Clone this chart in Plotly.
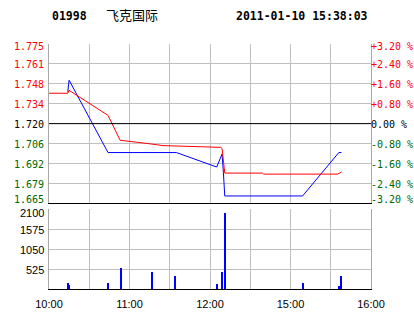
import plotly.graph_objects as go

# ---------------- data ----------------
code = "01998"
name = "飞克国际"
stamp = "2011-01-10 15:38:03"
prev_close = 1.720

price_times = ["10:14", "10:15", "10:44", "11:35", "12:05", "12:09", "12:10", "12:11", "15:09", "15:36", "15:38"]
price_vals = [1.742, 1.750, 1.700, 1.700, 1.690, 1.699, 1.686, 1.670, 1.670, 1.700, 1.700]

avg_times = ["10:00", "10:14", "10:15", "10:44", "10:53", "11:01", "11:14", "11:25", "11:50", "12:08",
             "12:09", "12:11", "14:39", "14:40", "15:35", "15:38"]
avg_vals = [1.741, 1.741, 1.743, 1.7257, 1.7085, 1.7078, 1.7062, 1.7048, 1.7039, 1.7036,
            1.7027, 1.6858, 1.6858, 1.6851, 1.6851, 1.6865]

vol_times = ["10:14", "10:15", "10:44", "10:54", "11:17", "11:34", "12:05", "12:09", "12:11", "15:09", "15:36", "15:38"]
vol_vals = [142, 88, 142, 545, 437, 330, 115, 437, 1992, 142, 62, 330]

price_ticktext = ["1.665", "1.679", "1.692", "1.706", "1.720", "1.734", "1.748", "1.761", "1.775"]
pct_ticktext = ["-3.20 %", "-2.40 %", "-1.60 %", "-0.80 %", "0.00 %", "+0.80 %", "+1.60 %", "+2.40 %", "+3.20 %"]
vol_tickvals = [525, 1050, 1575, 2100]
vol_ticktext = ["525", "1050", "1575", "2100"]
time_tickvals = ["10:00", "10:30", "11:00", "11:30", "12:00", "12:30", "15:00", "15:30", "16:00"]
time_ticktext = ["10:00", "", "11:00", "", "12:00", "", "15:00", "", "16:00"]


def session_min(t):
    h, m = map(int, t.split(":"))
    mins = h * 60 + m
    if mins <= 12 * 60 + 30:
        return mins - 600
    return mins - (14 * 60 + 30) + 150


px_ = [session_min(t) for t in price_times]
ax_ = [session_min(t) for t in avg_times]
vx_ = [session_min(t) for t in vol_times]
tx_ = [session_min(t) for t in time_tickvals]

steps = [-4, -3, -2, -1, 0, 1, 2, 3, 4]
price_tickvals = [prev_close * (1 + 0.008 * k) for k in steps]
RED, GREEN, BLACK = "#FF0000", "#006600", "#000000"


def col(k):
    return RED if k > 0 else (GREEN if k < 0 else BLACK)


GRID = "#C0C0C0"
BORDER = "#A8A8A8"

fig = go.Figure()
fig.add_trace(go.Scatter(x=px_, y=price_vals, mode="lines", line=dict(color="#0000FF", width=1),
                         xaxis="x", yaxis="y", showlegend=False))
fig.add_trace(go.Scatter(x=ax_, y=avg_vals, mode="lines", line=dict(color=RED, width=1),
                         xaxis="x", yaxis="y", showlegend=False))
fig.add_trace(go.Bar(x=vx_, y=vol_vals, width=0.8, marker=dict(color="#0000FF", line=dict(width=0)),
                     xaxis="x2", yaxis="y3", showlegend=False))

fig.add_shape(type="line", xref="x", yref="y", x0=0, x1=240, y0=prev_close, y1=prev_close,
              line=dict(color="black", width=1))

pdom = [0.35, 1.0]
vdom = [0.0, 0.3245]
xr = [0, 240]
fig.update_layout(
    width=414, height=314,
    margin=dict(l=49, r=43, t=44, b=25, autoexpand=False),
    paper_bgcolor="white", plot_bgcolor="white",
    bargap=0,
    xaxis=dict(domain=[0, 1], range=xr, anchor="y", tickvals=tx_, showticklabels=False,
               showgrid=True, gridcolor=GRID, gridwidth=1, zeroline=False, automargin=False,
               showline=True, linecolor="black", linewidth=1, ticks=""),
    yaxis=dict(domain=pdom, range=[price_tickvals[0], price_tickvals[-1]], tickvals=price_tickvals,
               showticklabels=False,
               showgrid=True, gridcolor=GRID, zeroline=False, showline=True, linecolor=BORDER,
               mirror=True, ticks="", side="left", automargin=False),
    xaxis2=dict(domain=[0, 1], range=xr, anchor="y3", tickvals=tx_, ticktext=time_ticktext,
                tickfont=dict(family="Liberation Sans", size=11, color="black"),
                showgrid=True, gridcolor=GRID, zeroline=False, ticklabelstandoff=5, automargin=False,
                showline=True, linecolor="black", linewidth=1, ticks=""),
    yaxis3=dict(domain=vdom, range=[0, 2100], tickvals=vol_tickvals, showticklabels=False,
                showgrid=True, gridcolor=GRID, zeroline=False, showline=True, linecolor=BORDER,
                mirror=True, ticks="", automargin=False),
)

# price (left) and percent (right) labels, kept inside the price panel
for i, (k, v) in enumerate(zip(steps, price_tickvals)):
    ys = 4 if i == 0 else (-2 if i == len(steps) - 1 else -1)
    fig.add_annotation(x=0, y=v, xref="paper", yref="y", text=price_ticktext[i], showarrow=False,
                       xanchor="right", yanchor="middle", xshift=-4, yshift=ys, borderpad=0,
                       font=dict(family="DejaVu Sans Mono", size=10, color=col(k)))
    fig.add_annotation(x=1, y=v, xref="paper", yref="y", text=pct_ticktext[i], showarrow=False,
                       xanchor="left", yanchor="middle", xshift=-1, yshift=ys, borderpad=0,
                       font=dict(family="DejaVu Sans Mono", size=10, color=col(k)))

# volume labels
for i, (v, t) in enumerate(zip(vol_tickvals, vol_ticktext)):
    ys = -4 if i == len(vol_tickvals) - 1 else -1
    fig.add_annotation(x=0, y=v, xref="paper", yref="y3", text=t, showarrow=False,
                       xanchor="right", yanchor="middle", xshift=-4, yshift=ys, borderpad=0,
                       font=dict(family="Liberation Sans", size=11, color="black"))

hdr_y = 1 + (44 - 16) / 245
fig.add_annotation(x=(50 - 49) / 322, y=hdr_y, xref="paper", yref="paper", text=f"<b>{code}</b>",
                   showarrow=False, xanchor="left", yanchor="middle",
                   font=dict(family="DejaVu Sans Mono", size=11.5, color="black"))
fig.add_annotation(x=(104 - 49) / 322, y=1 + (44 - 14.5) / 245, xref="paper", yref="paper", text=name,
                   showarrow=False, xanchor="left", yanchor="middle",
                   font=dict(family="Noto Sans CJK SC", size=13, color="black"))
fig.add_annotation(x=(370 - 49) / 322, y=hdr_y, xref="paper", yref="paper", text=f"<b>{stamp}</b>",
                   showarrow=False, xanchor="right", yanchor="middle",
                   font=dict(family="DejaVu Sans Mono", size=11.5, color="black"))

fig.write_html("out.html")
